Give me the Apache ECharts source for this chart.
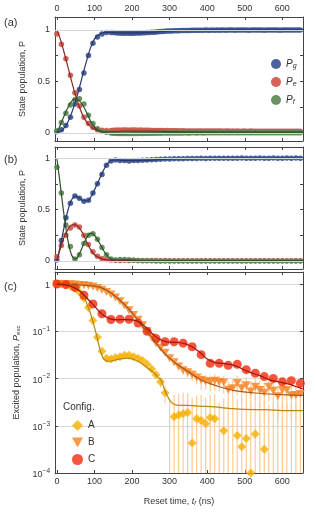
<!DOCTYPE html>
<html><head><meta charset="utf-8">
<script src="https://cdn.jsdelivr.net/npm/echarts@6/dist/echarts.min.js"></script>
<style>html,body{margin:0;padding:0;background:#fff}#c{width:316px;height:514px}</style>
</head><body><div id="c"></div><script>
// ---------- Panel (a) data ----------
const timeA = [0,12,24,36,48,60,72,84,96,108,120,132,144,
150,156,162,168,174,180,186,192,198,204,210,216,
222,228,234,240,246,252,258,264,270,276,282,288,
294,300,306,312,318,324,330,336,342,348,354,360,
366,372,378,384,390,396,402,408,414,420,426,432,
438,444,450,456,462,468,474,480,486,492,498,504,
510,516,522,528,534,540,546,552,558,564,570,576,
582,588,594,600,606,612,618,624,630,636,642,648];
const aPg = [0.01,0.03,0.07,0.15,0.28,0.42,0.58,0.75,0.87,0.93,0.96,0.975,0.975,
.975,.972,.970,.970,.968,.968,.970,.968,.967,.968,.970,.969,
.970,.972,.972,.974,.975,.977,.978,.980,.982,.984,.985,.987,
.988,.990,.990,.991,.992,.992,.993,.994,.994,.995,.995,.996,
.996,.997,.996,.997,.997,.998,.997,.996,.998,.997,.998,.997,
.998,.998,.997,.998,.999,.998,.997,.998,.998,.999,.998,.998,
.997,.998,.999,.998,.998,.999,.998,.997,.998,.999,.998,.998,
.999,.998,.997,.998,.999,.998,.998,.999,.998,.999,.998,.998];
const aPe = [0.96,0.86,0.72,0.56,0.39,0.26,0.15,0.09,0.05,0.03,0.025,0.022,0.022,
.024,.025,.026,.025,.026,.027,.026,.025,.026,.027,.026,.025,
.026,.025,.024,.025,.024,.023,.022,.022,.021,.022,.021,.020,
.021,.020,.020,.019,.020,.019,.018,.019,.018,.018,.017,.018,
.017,.018,.017,.016,.017,.017,.016,.017,.016,.016,.017,.016,
.016,.015,.016,.016,.015,.016,.015,.016,.015,.015,.016,.015,
.015,.016,.015,.015,.014,.015,.015,.014,.015,.015,.014,.015,
.014,.015,.015,.014,.015,.014,.014,.015,.014,.014,.015,.014];
const aPf = [0.02,0.10,0.19,0.27,0.32,0.33,0.28,0.17,0.09,0.04,0.012,0.004,-0.002,
-.004,-.005,-.006,-.006,-.007,-.006,-.007,-.006,-.006,-.007,-.006,-.006,
-.005,-.006,-.005,-.005,-.004,-.005,-.004,-.004,-.003,-.004,-.003,-.003,
-.003,-.002,-.003,-.002,-.002,-.003,-.002,-.002,-.001,-.002,-.002,-.001,
-.001,-.002,-.001,-.001,-.002,-.001,-.001,0,-.001,-.001,0,-.001,
0,-.001,0,-.001,0,0,-.001,0,0,-.001,0,0,
-.001,0,0,0,-.001,0,0,-.001,0,0,0,-.001,
0,0,-.001,0,0,0,-.001,0,0,0,-.001,0];
const fitTimeA = [0,10,20,30,40,50,60,70,80,90,100,110,120,130,140,160,180,200,250,300,350,400,500,655];
const fitAPg = [0,0.015,0.05,0.11,0.2,0.31,0.44,0.58,0.71,0.83,0.91,0.95,0.97,0.975,0.975,0.972,0.97,0.97,0.976,0.99,0.995,0.998,1.0,1.0];
const fitAPe = [1.0,0.9,0.77,0.63,0.49,0.36,0.25,0.16,0.1,0.06,0.035,0.02,0.012,0.01,0.01,0.012,0.015,0.015,0.015,0.012,0.01,0.01,0.01,0.01];
const fitAPf = [0,0.08,0.17,0.25,0.31,0.33,0.31,0.26,0.19,0.11,0.055,0.025,0.01,0,-0.005,-0.008,-0.008,-0.006,-0.004,-0.002,0,0,0,0];

// ---------- Panel (b) data ----------
const time12 = [0,12,24,36,48,60,72,84,96,108,120,132,
144,156,168,180,192,204,216,228,240,252,264,276,
288,300,312,324,336,348,360,372,384,396,408,420,
432,444,456,468,480,492,504,516,528,540,552,564,
576,588,600,612,624,636,648];
const bPg = [.01,.2,.42,.56,.63,.61,.58,.59,.66,.75,.84,.93,
.97,.98,.977,.975,.972,.975,.975,.978,.98,.982,.985,.987,
.99,.99,.992,.993,.994,.995,.995,.996,.997,.996,.997,.998,
.997,.998,.997,.998,.998,.999,.998,.997,.998,.999,.998,.998,
.999,.998,.998,.999,.998,.999,.998];
const bPe = [.04,.15,.25,.32,.35,.33,.25,.16,.09,.045,.025,.015,
.01,.006,.005,.006,.005,.006,.005,.004,.005,.004,.004,.003,
.004,.003,.003,.002,.003,.002,.002,.003,.002,.002,.001,.002,
.002,.001,.002,.001,.001,.002,.001,.001,.002,.001,.001,.001,
.001,.001,.002,.001,.001,.001,.001];
const bPf = [.91,.66,.35,.14,.02,.06,.17,.25,.265,.21,.13,.06,
.02,.01,.015,.015,.012,.008,.005,.003,.002,.001,0,0,
-.001,0,-.001,0,0,-.001,0,0,-.001,0,0,0,
0,-.001,0,0,0,-.001,0,0,0,0,-.001,0,
0,0,0,-.001,0,0,0];
const fitTimeB = [0,10,20,30,40,50,60,70,80,90,100,110,120,130,140,150,160,170,180,190,200,220,250,300,400,500,655];
const fitBPg = [0,0.16,0.34,0.5,0.6,0.63,0.61,0.585,0.585,0.62,0.69,0.77,0.85,0.92,0.965,0.98,0.98,0.978,0.975,0.974,0.974,0.976,0.98,0.99,0.997,0.999,1.0];
const fitBPe = [0,0.13,0.24,0.31,0.35,0.35,0.32,0.26,0.18,0.11,0.06,0.035,0.02,0.012,0.008,0.005,0.004,0.004,0.004,0.003,0.003,0.002,0.002,0.001,0,0,0];
const fitBPf = [1.0,0.71,0.42,0.19,0.05,0.02,0.07,0.155,0.23,0.27,0.25,0.195,0.13,0.07,0.03,0.012,0.008,0.01,0.012,0.011,0.009,0.005,0.002,0,0,0,0];

// ---------- Panel (c) data ----------
const cfgA = [1.0,1.0,0.97,0.9,0.82,0.68,0.5,0.32,0.17,0.075,0.038,0.027,
0.026,0.028,0.029,0.031,0.031,0.029,0.027,0.024,0.02,0.016,0.012,0.0085,
0.005,-0.0003,0.00156,0.0017,0.0018,0.0019,0.00043,0.0014,0.0013,0.0011,0.0015,0.0014,
-0.0004,0.00078,-0.0006,-0.0002,0.00062,0.00036,0.00054,0.0001,0.00067,-0.0005,0.00032,-0.0008,
-0.0004,-0.0003,-0.0006,-0.0005,-0.0009,-0.0004,-0.0007];
const errA = [0.002,0.002,0.002,0.002,0.002,0.002,0.002,0.002,0.002,0.002,0.002,0.002,
0.002,0.002,0.002,0.002,0.002,0.002,0.002,0.002,0.002,0.002,0.002,0.002,
0.002,0.004,0.003,0.003,0.0032,0.003,0.0035,0.003,0.0032,0.0028,0.003,0.0033,
0.0035,0.003,0.0038,0.0032,0.003,0.0034,0.0033,0.003,0.0032,0.0036,0.0031,0.0036,
0.0034,0.0032,0.0036,0.0034,0.0038,0.0033,0.0036];
const cfgB = [1.0,1.0,1.0,0.99,0.98,0.96,0.94,0.92,0.89,0.83,0.76,0.68,
0.6,0.52,0.43,0.35,0.28,0.22,0.175,0.135,0.1,0.075,0.056,0.045,
0.035,0.027,0.022,0.018,0.015,0.0135,0.012,0.0105,0.0093,0.0088,0.0085,0.009,
0.0084,0.0082,0.0058,0.0062,0.008,0.0062,0.0072,0.0053,0.0067,0.0057,0.005,0.0067,
0.0055,0.0042,0.0057,0.0057,0.0044,0.0044,0.0047];
const errB = [0.002,0.002,0.002,0.002,0.002,0.002,0.002,0.002,0.002,0.002,0.002,0.002,
0.002,0.002,0.002,0.002,0.002,0.002,0.002,0.002,0.002,0.002,0.002,0.002,
0.002,0.002,0.0025,0.003,0.003,0.003,0.0032,0.003,0.0035,0.003,0.0032,0.0035,
0.003,0.0034,0.003,0.0032,0.0036,0.003,0.0034,0.003,0.0032,0.0033,0.003,0.0034,
0.0032,0.003,0.0034,0.0035,0.003,0.0032,0.0034];
const time24 = [0,24,48,72,96,120,144,168,192,216,240,264,288,312,336,360,384,408,432,456,480,504,528,552,576,600,624,648];
const cfgC = [1.0,0.97,0.85,0.58,0.38,0.235,0.178,0.18,0.18,0.15,0.1,0.07,0.06,0.06,0.056,0.047,0.032,0.021,0.021,0.019,0.02,0.0154,0.0129,0.011,0.01,0.0085,0.009,0.0079];
const fitTimeCA = [0,20,40,55,70,80,88,95,101,107,112,118,123,130,136,145,158,170,185,200,211,225,238,256,268,278,286,293,300,310,327,350,380,420,468,520,557,600,655];
const fitA = [1.0,0.98,0.9,0.78,0.58,0.38,0.26,0.17,0.114,0.075,0.05,0.034,0.027,0.024,0.023,0.0235,0.025,0.026,0.027,0.026,0.024,0.021,0.0175,0.0137,0.011,0.009,0.006,0.0045,0.0035,0.0029,0.0027,0.0027,0.0026,0.0025,0.0023,0.0022,0.0022,0.0021,0.0021];
const fitTimeCB = [0,40,70,100,114,135,158,180,203,229,250,265,285,300,320,344,365,388,410,433,455,477,520,565,610,655];
const fitB = [1.0,0.99,0.95,0.9,0.86,0.72,0.53,0.37,0.235,0.123,0.08,0.055,0.035,0.027,0.02,0.015,0.0115,0.009,0.0077,0.0067,0.006,0.0055,0.005,0.0047,0.0045,0.0044];
const fitTimeCC = [0,20,40,60,80,100,120,140,160,180,200,220,240,260,280,300,320,340,360,380,400,420,440,460,480,500,520,540,560,580,600,620,640,655];
const fitC = [1.0,0.97,0.88,0.72,0.5,0.34,0.23,0.185,0.175,0.177,0.175,0.155,0.115,0.08,0.064,0.059,0.058,0.055,0.047,0.036,0.026,0.022,0.021,0.02,0.018,0.015,0.013,0.0115,0.0098,0.0088,0.0082,0.0075,0.0066,0.006];

const xTicks = [0,100,200,300,400,500,600];
const linTicks = [0,0.25,0.5,0.75,1];
const linLabels = [0,0.5,1];

// ---------- build ----------
const FONT = 'Liberation Sans';
const AX = '#444', TXT = '#333';
const COL = {Pg:'#3d5596', Pe:'#d5544b', Pf:'#5b8a53', lPg:'#27386b', lPe:'#8a2a22', lPf:'#2c5228',
  A:'#f6b000', B:'#f7801c', C:'#f42a0c', lA:'#b8870c', lB:'#a4541b', lC:'#a0120c', err:'#ffcb94'};
const pairs = (t, v) => t.map((x, i) => [x, v[i]]);
const positive = (t, v) => pairs(t, v).filter(p => p[1] > 0);
const errData = (t, v, s) => t.map((x, i) => [x, Math.max(v[i] - s[i], 1e-6), v[i] + s[i]]);

function xAxisPair(gi, topLabels, bottomLabels, name) {
  const base = {type:'value', gridIndex:gi, min:-5, max:655,
    axisLine:{show:true, onZero:false, lineStyle:{color:AX, width:1}},
    axisTick:{show:true, inside:true, length:3, customValues:xTicks, lineStyle:{color:AX}},
    splitLine:{show:false}};
  const bottom = Object.assign({}, base, {position:'bottom',
    axisLabel:{show:bottomLabels, customValues:xTicks, fontSize:9, color:TXT, fontFamily:FONT, margin:4}});
  if (name) Object.assign(bottom, {name:name, nameLocation:'middle', nameGap:23,
    nameTextStyle:{fontSize:9, color:TXT, fontFamily:FONT,
      rich:{i:{fontStyle:'italic', fontSize:9, color:TXT, fontFamily:FONT},
            s:{fontStyle:'italic', fontSize:6.5, color:TXT, fontFamily:FONT, padding:[4,0,0,0]}}}});
  const top = Object.assign({}, base, {position:'top',
    axisLabel:{show:topLabels, customValues:xTicks, fontSize:9, color:TXT, fontFamily:FONT, margin:4}});
  return [bottom, top];
}
function yLinPair(gi, mn, mx) {
  const base = {type:'value', gridIndex:gi, min:mn, max:mx,
    axisLine:{show:true, onZero:false, lineStyle:{color:AX, width:1}},
    axisTick:{show:true, inside:true, length:3, customValues:linTicks, lineStyle:{color:AX}},
    splitLine:{show:false}};
  const left = Object.assign({}, base, {position:'left',
    axisLabel:{show:true, customValues:linLabels, fontSize:9, color:TXT, fontFamily:FONT, margin:5},
    name:'State population, P', nameLocation:'middle', nameGap:26,
    nameTextStyle:{fontSize:9, color:TXT, fontFamily:FONT}});
  const right = Object.assign({}, base, {position:'right', axisLabel:{show:false}});
  return [left, right];
}
function yLogPair(gi) {
  const base = {type:'log', logBase:10, gridIndex:gi, min:1e-4, max:1.8,
    axisLine:{show:true, onZero:false, lineStyle:{color:AX, width:1}},
    axisTick:{show:true, inside:true, length:3, lineStyle:{color:AX}},
    minorTick:{show:false}};
  const left = Object.assign({}, base, {position:'left',
    splitLine:{show:true, lineStyle:{color:'#d9d9d9', width:1}},
    axisLabel:{show:true, showMaxLabel:false, fontSize:9, color:TXT, fontFamily:FONT, margin:5,
      formatter: v => { const e = Math.round(Math.log10(v)); return e === 0 ? '{b|1}' : '{b|10}{s|\u2212' + (-e) + '}'; },
      rich:{b:{fontSize:9, color:TXT, fontFamily:FONT, padding:[3,0,0,0]}, s:{fontSize:6.5, color:TXT, fontFamily:FONT, padding:[0,0,4,0]}}},
    name:'Excited population, {i|P}{s|exc}', nameLocation:'middle', nameGap:31,
    nameTextStyle:{fontSize:9, color:TXT, fontFamily:FONT,
      rich:{i:{fontStyle:'italic', fontSize:9, color:TXT, fontFamily:FONT},
            s:{fontSize:6, color:TXT, fontFamily:FONT, padding:[4,0,0,0]}}}});
  const right = Object.assign({}, base, {position:'right', splitLine:{show:false}, axisLabel:{show:false}});
  return [left, right];
}

const xAxes = [].concat(xAxisPair(0, true, false), xAxisPair(1, false, false),
  xAxisPair(2, false, true, 'Reset time, {i|t}{s|r} (ns)'));
const yAxes = [].concat(yLinPair(0, -0.08, 1.125), yLinPair(1, -0.078, 1.107), yLogPair(2));

const series = [];
function gridLines(g) {
  series.push({type:'line', xAxisIndex:2*g, yAxisIndex:2*g, data:[], z:1, silent:true,
    markLine:{silent:true, symbol:'none', label:{show:false}, animation:false,
      lineStyle:{color:'#d6d6d6', type:'solid', width:1}, data:[{yAxis:0},{yAxis:1}]}});
}
function dots(g, name, t, v, color, size) {
  series.push({type:'scatter', name:name, xAxisIndex:2*g, yAxisIndex:2*g, data:pairs(t, v),
    symbol:'circle', symbolSize:size, clip:false, z:2, itemStyle:{color:color, opacity:0.92}});
}
function fit(g, t, v, color, smooth) {
  series.push({type:'line', xAxisIndex:2*g, yAxisIndex:2*g, data:pairs(t, v), smooth:smooth,
    showSymbol:false, symbol:'none', z:3, silent:true, lineStyle:{color:color, width:1.2}});
}
gridLines(0); gridLines(1);
dots(0, 'Pg', timeA, aPg, COL.Pg, 5.5); dots(0, 'Pe', timeA, aPe, COL.Pe, 5.5); dots(0, 'Pf', timeA, aPf, COL.Pf, 5.5);
fit(0, fitTimeA, fitAPg, COL.lPg, 0.4); fit(0, fitTimeA, fitAPe, COL.lPe, 0.4); fit(0, fitTimeA, fitAPf, COL.lPf, 0.4);
dots(1, 'Pg', time12, bPg, COL.Pg, 5.5); dots(1, 'Pe', time12, bPe, COL.Pe, 5.5); dots(1, 'Pf', time12, bPf, COL.Pf, 5.5);
fit(1, fitTimeB, fitBPg, COL.lPg, 0.4); fit(1, fitTimeB, fitBPe, COL.lPe, 0.4); fit(1, fitTimeB, fitBPf, COL.lPf, 0.4);

function errBars(t, v, s) {
  series.push({type:'custom', xAxisIndex:4, yAxisIndex:4, data:errData(t, v, s), clip:true, z:1, silent:true,
    encode:{x:0, y:[1,2]},
    renderItem:(params, api) => {
      const p1 = api.coord([api.value(0), api.value(1)]);
      const p2 = api.coord([api.value(0), api.value(2)]);
      return {type:'line', shape:{x1:p1[0], y1:p1[1], x2:p2[0], y2:p2[1]}, style:{stroke:COL.err, lineWidth:1.2}};
    }});
}
errBars(time12, cfgA, errA); errBars(time12, cfgB, errB);
const TRI = 'path://M0,0L10,0L5,9Z';
series.push({type:'scatter', name:'A', xAxisIndex:4, yAxisIndex:4, data:positive(time12, cfgA), symbol:'diamond', symbolSize:9, z:2, clip:true, itemStyle:{color:COL.A}});
series.push({type:'scatter', name:'B', xAxisIndex:4, yAxisIndex:4, data:positive(time12, cfgB), symbol:TRI, symbolSize:[9,8], z:2, clip:true, itemStyle:{color:COL.B}});
series.push({type:'scatter', name:'C', xAxisIndex:4, yAxisIndex:4, data:positive(time24, cfgC), symbol:'circle', symbolSize:9, z:2, clip:true, itemStyle:{color:COL.C}});
fit(2, fitTimeCA, fitA, COL.lA, 0.3); fit(2, fitTimeCB, fitB, COL.lB, 0.3); fit(2, fitTimeCC, fitC, COL.lC, 0.3);
series.forEach(s => { s.animation = false; });

const lbl = (txt, x, y, size) => ({type:'text', left:x, top:y, silent:true,
  style:{text:txt, fontSize:size, fill:TXT, fontFamily:FONT}});

const option = {
  animation:false,
  textStyle:{fontFamily:FONT},
  grid:[
    {left:55, right:13, top:17, height:124},
    {left:55, right:13, top:147, height:122},
    {left:55, right:13, top:272, height:201}
  ],
  xAxis:xAxes, yAxis:yAxes, series:series,
  legend:[
    {data:['Pg','Pe','Pf'], orient:'vertical', left:266, top:54, itemWidth:10, itemHeight:10, itemGap:7.5,
     selectedMode:false, formatter: n => '{i|P}{s|' + n.slice(1) + '}',
     textStyle:{fontSize:10, color:TXT, fontFamily:FONT,
       rich:{i:{fontStyle:'italic', fontSize:10, color:TXT, fontFamily:FONT},
             s:{fontStyle:'italic', fontSize:7, color:TXT, fontFamily:FONT, padding:[4,0,0,0]}}}},
    {data:['A','B','C'], orient:'vertical', left:67, top:415, itemWidth:11, itemHeight:11, itemGap:6.5,
     selectedMode:false, textStyle:{fontSize:10, color:TXT, fontFamily:FONT}}
  ],
  graphic:[
    lbl('(a)', 4, 17, 11), lbl('(b)', 4, 154, 11), lbl('(c)', 4, 281, 11), lbl('Config.', 63, 402, 10)
  ]
};
const chart = echarts.init(document.getElementById('c'), null, {renderer:'canvas'});
chart.setOption(option);
</script></body></html>
